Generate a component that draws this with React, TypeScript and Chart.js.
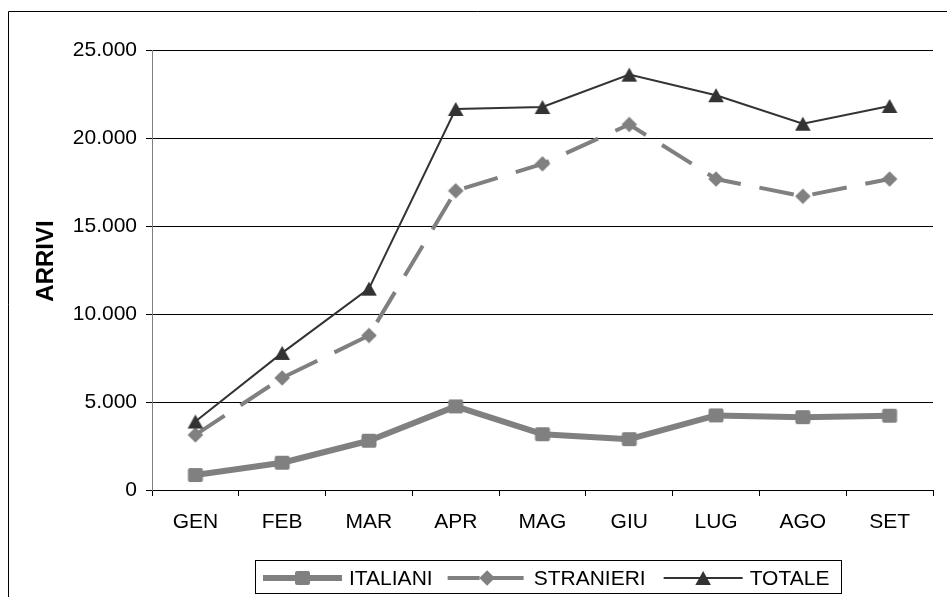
import React, { useEffect, useRef } from 'react';
import { Chart, registerables } from 'chart.js';

Chart.register(...registerables);

const months = ['GEN', 'FEB', 'MAR', 'APR', 'MAG', 'GIU', 'LUG', 'AGO', 'SET'];
const italiani = [850, 1550, 2800, 4750, 3170, 2890, 4240, 4140, 4220];
const stranieri = [3130, 6370, 8780, 17000, 18530, 20770, 17670, 16690, 17670];
const totale = [3890, 7790, 11440, 21650, 21760, 23600, 22430, 20810, 21820];
const seriesNames = ['ITALIANI', 'STRANIERI', 'TOTALE'];
const axisTitle = 'ARRIVI';
const yMin = 0;
const yMax = 25000;
const yStep = 5000;

const GREY = '#808080';
const DARK = '#333333';
const FONT = '"Liberation Sans", Arial, Helvetica, sans-serif';

function fmt(v: number): string {
  return String(v).replace(/\B(?=(\d{3})+(?!\d))/g, '.');
}

type MarkerKind = 'square' | 'diamond' | 'triangle';

function traceMarker(ctx: CanvasRenderingContext2D, kind: MarkerKind, cx: number, cy: number) {
  ctx.beginPath();
  if (kind === 'square') {
    const w = 15, h = 14, r = 2;
    const x = cx - w / 2, y = cy - h / 2;
    ctx.moveTo(x + r, y);
    ctx.lineTo(x + w - r, y);
    ctx.quadraticCurveTo(x + w, y, x + w, y + r);
    ctx.lineTo(x + w, y + h - r);
    ctx.quadraticCurveTo(x + w, y + h, x + w - r, y + h);
    ctx.lineTo(x + r, y + h);
    ctx.quadraticCurveTo(x, y + h, x, y + h - r);
    ctx.lineTo(x, y + r);
    ctx.quadraticCurveTo(x, y, x + r, y);
  } else if (kind === 'diamond') {
    ctx.moveTo(cx, cy - 7.8);
    ctx.lineTo(cx + 7.8, cy);
    ctx.lineTo(cx, cy + 7.8);
    ctx.lineTo(cx - 7.8, cy);
  } else {
    ctx.moveTo(cx, cy - 7);
    ctx.lineTo(cx + 7.8, cy + 7);
    ctx.lineTo(cx - 7.8, cy + 7);
  }
  ctx.closePath();
}

function makeMarker(kind: MarkerKind, color: string): HTMLCanvasElement {
  const c = document.createElement('canvas');
  c.width = 18;
  c.height = 18;
  const ctx = c.getContext('2d')!;
  ctx.fillStyle = color;
  traceMarker(ctx, kind, 9, 9);
  ctx.fill();
  return c;
}

const frameAndLegend = {
  id: 'frameAndLegend',
  afterDraw(chart: any) {
    const ctx: CanvasRenderingContext2D = chart.ctx;
    ctx.save();
    // outer frame
    ctx.strokeStyle = '#000';
    ctx.lineWidth = 1;
    ctx.beginPath();
    ctx.moveTo(8.5, 597);
    ctx.lineTo(8.5, 11.5);
    ctx.lineTo(947, 11.5);
    ctx.stroke();

    // axis title
    ctx.fillStyle = '#000';
    ctx.font = `bold 24px ${FONT}`;
    ctx.textAlign = 'center';
    ctx.textBaseline = 'middle';
    ctx.translate(46, 261);
    ctx.rotate(-Math.PI / 2);
    ctx.fillText(axisTitle, 0, 0);
    ctx.setTransform(1, 0, 0, 1, 0, 0);

    // legend
    const cy = 578;
    ctx.font = `21px ${FONT}`;
    ctx.textAlign = 'left';
    ctx.textBaseline = 'middle';
    const styles = [
      { color: GREY, width: 6, dash: [] as number[], marker: 'square' as MarkerKind },
      { color: GREY, width: 4, dash: [32, 12], marker: 'diamond' as MarkerKind },
      { color: DARK, width: 2, dash: [] as number[], marker: 'triangle' as MarkerKind },
    ];
    const sampleLen = 79;
    const boxLeft = 255;
    let x = boxLeft + 8;
    seriesNames.forEach((name, i) => {
      const s = styles[i];
      ctx.strokeStyle = s.color;
      ctx.lineWidth = s.width;
      ctx.setLineDash(s.dash);
      ctx.beginPath();
      ctx.moveTo(x, cy);
      ctx.lineTo(x + sampleLen, cy);
      ctx.stroke();
      ctx.setLineDash([]);
      ctx.fillStyle = s.color;
      traceMarker(ctx, s.marker, x + sampleLen / 2, cy);
      ctx.fill();
      const tx = x + sampleLen + 7;
      ctx.fillStyle = '#000';
      ctx.fillText(name, tx, cy + 1);
      const tw = ctx.measureText(name).width;
      x = tx + tw + (i === 0 ? 15 : 18);
    });
    const boxRight = x - 18 + 12;
    ctx.strokeStyle = '#000';
    ctx.lineWidth = 1;
    ctx.strokeRect(boxLeft + 0.5, 560.5, Math.round(boxRight - boxLeft), 33);
    ctx.restore();
  },
};

export default function App() {
  const canvasRef = useRef<HTMLCanvasElement | null>(null);

  useEffect(() => {
    const canvas = canvasRef.current;
    if (!canvas) return;
    const chart = new Chart(canvas, {
      type: 'line',
      data: {
        labels: months,
        datasets: [
          {
            label: seriesNames[0],
            data: italiani,
            borderColor: GREY,
            backgroundColor: GREY,
            borderWidth: 6,
            borderJoinStyle: 'round',
            pointStyle: makeMarker('square', GREY),
            pointRadius: 8,
            order: 2,
            tension: 0,
          },
          {
            label: seriesNames[1],
            data: stranieri,
            borderColor: GREY,
            backgroundColor: GREY,
            borderWidth: 4,
            borderDash: [35, 19],
            pointStyle: makeMarker('diamond', GREY),
            pointRadius: 8,
            order: 1,
            tension: 0,
          },
          {
            label: seriesNames[2],
            data: totale,
            borderColor: DARK,
            backgroundColor: DARK,
            borderWidth: 2,
            pointStyle: makeMarker('triangle', DARK),
            pointRadius: 8,
            order: 0,
            tension: 0,
          },
        ],
      },
      options: {
        animation: false,
        responsive: false,
        maintainAspectRatio: false,
        layout: { padding: { top: 50, right: 7, left: 0, bottom: 0 } },
        plugins: {
          legend: { display: false },
          tooltip: { enabled: false },
          title: { display: false },
        },
        scales: {
          x: {
            type: 'category',
            offset: true,
            grid: {
              display: true,
              drawOnChartArea: false,
              drawTicks: true,
              tickLength: 6,
              color: '#000',
              offset: true,
            },
            border: { display: true, color: '#000', width: 1 },
            ticks: {
              color: '#000',
              font: { family: FONT, size: 21 },
              padding: 14,
              maxRotation: 0,
              autoSkip: false,
            },
            afterFit: (s: any) => {
              s.height = 107;
            },
          },
          y: {
            min: yMin,
            max: yMax,
            ticks: {
              stepSize: yStep,
              color: '#000',
              font: { family: FONT, size: 21 },
              padding: 9,
              callback: (v: any) => fmt(Number(v)),
            },
            grid: { color: '#000', tickLength: 6, drawTicks: true, lineWidth: 1 },
            border: { display: true, color: GREY, width: 1 },
            afterFit: (s: any) => {
              s.width = 152;
            },
          },
        },
      },
      plugins: [frameAndLegend],
    } as any);
    return () => chart.destroy();
  }, []);

  return (
    <div
      style={{
        position: 'fixed',
        left: 0,
        top: 0,
        width: 947,
        height: 597,
        background: '#fff',
        overflow: 'hidden',
      }}
    >
      <canvas ref={canvasRef} width={947} height={597} style={{ display: 'block' }} />
    </div>
  );
}
